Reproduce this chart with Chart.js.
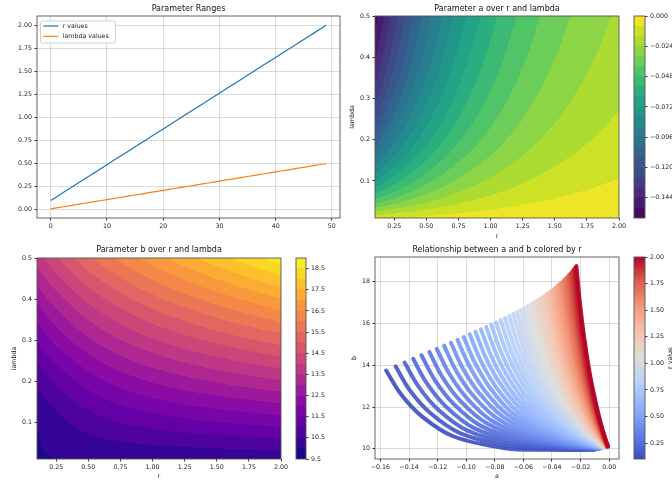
<!DOCTYPE html>
<html lang="en">
<head>
<meta charset="utf-8">
<title>Parameters a and b over r and lambda</title>
<script src="https://cdn.jsdelivr.net/npm/chart.js@4.4.1/dist/chart.umd.min.js"></script>
<style>
  html, body { margin: 0; background: #fff; }
  body { position: relative; width: 672px; height: 483px; overflow: hidden; }
  canvas { position: absolute; }
</style>
</head>
<body>
<canvas id="c-ranges"></canvas>
<canvas id="c-a"></canvas>
<canvas id="c-a-bar"></canvas>
<canvas id="c-b"></canvas>
<canvas id="c-b-bar"></canvas>
<canvas id="c-ab"></canvas>
<canvas id="c-ab-bar"></canvas>
<script>
// ── Data ──────────────────────────────────────────────────

const rVals = [0.100, 0.139, 0.178, 0.216, 0.255, 0.294, 0.333, 0.371, 0.410, 0.449,
               0.488, 0.527, 0.565, 0.604, 0.643, 0.682, 0.720, 0.759, 0.798, 0.837,
               0.876, 0.914, 0.953, 0.992, 1.031, 1.069, 1.108, 1.147, 1.186, 1.224,
               1.263, 1.302, 1.341, 1.380, 1.418, 1.457, 1.496, 1.535, 1.573, 1.612,
               1.651, 1.690, 1.729, 1.767, 1.806, 1.845, 1.884, 1.922, 1.961, 2.000];

const lambdaVals = [0.01, 0.02, 0.03, 0.04, 0.05, 0.06, 0.07, 0.08, 0.09, 0.10,
                    0.11, 0.12, 0.13, 0.14, 0.15, 0.16, 0.17, 0.18, 0.19, 0.20,
                    0.21, 0.22, 0.23, 0.24, 0.25, 0.26, 0.27, 0.28, 0.29, 0.30,
                    0.31, 0.32, 0.33, 0.34, 0.35, 0.36, 0.37, 0.38, 0.39, 0.40,
                    0.41, 0.42, 0.43, 0.44, 0.45, 0.46, 0.47, 0.48, 0.49, 0.50];

// lambda values at which a and b are tabulated (columns of aVals / bVals)
const lambdaSamples = [0.01, 0.05, 0.1, 0.2, 0.3, 0.4, 0.5];

// one row per entry of rVals
const aVals = [
  [-0.0104, -0.0437, -0.0728, -0.1092, -0.1310, -0.1456, -0.1560],
  [-0.0098, -0.0414, -0.0691, -0.1040, -0.1251, -0.1393, -0.1494],
  [-0.0093, -0.0392, -0.0656, -0.0991, -0.1195, -0.1332, -0.1431],
  [-0.0088, -0.0371, -0.0623, -0.0945, -0.1142, -0.1275, -0.1371],
  [-0.0083, -0.0351, -0.0591, -0.0900, -0.1090, -0.1219, -0.1313],
  [-0.0078, -0.0332, -0.0561, -0.0857, -0.1041, -0.1167, -0.1258],
  [-0.0074, -0.0315, -0.0533, -0.0818, -0.0995, -0.1117, -0.1206],
  [-0.0070, -0.0298, -0.0506, -0.0779, -0.0950, -0.1069, -0.1155],
  [-0.0066, -0.0282, -0.0480, -0.0742, -0.0908, -0.1023, -0.1107],
  [-0.0062, -0.0267, -0.0456, -0.0708, -0.0868, -0.0979, -0.1061],
  [-0.0058, -0.0253, -0.0433, -0.0675, -0.0829, -0.0937, -0.1017],
  [-0.0055, -0.0239, -0.0411, -0.0643, -0.0793, -0.0898, -0.0975],
  [-0.0052, -0.0227, -0.0391, -0.0613, -0.0758, -0.0860, -0.0935],
  [-0.0049, -0.0214, -0.0371, -0.0585, -0.0725, -0.0824, -0.0897],
  [-0.0046, -0.0203, -0.0352, -0.0558, -0.0693, -0.0789, -0.0860],
  [-0.0044, -0.0192, -0.0335, -0.0532, -0.0663, -0.0756, -0.0825],
  [-0.0041, -0.0182, -0.0318, -0.0507, -0.0633, -0.0724, -0.0791],
  [-0.0039, -0.0173, -0.0302, -0.0485, -0.0606, -0.0694, -0.0759],
  [-0.0037, -0.0165, -0.0289, -0.0464, -0.0581, -0.0665, -0.0729],
  [-0.0035, -0.0157, -0.0275, -0.0443, -0.0556, -0.0638, -0.0699],
  [-0.0033, -0.0149, -0.0262, -0.0423, -0.0533, -0.0611, -0.0671],
  [-0.0032, -0.0142, -0.0251, -0.0405, -0.0511, -0.0587, -0.0645],
  [-0.0030, -0.0135, -0.0239, -0.0388, -0.0489, -0.0563, -0.0619],
  [-0.0029, -0.0129, -0.0228, -0.0371, -0.0469, -0.0541, -0.0595],
  [-0.0027, -0.0123, -0.0218, -0.0355, -0.0449, -0.0518, -0.0571],
  [-0.0026, -0.0117, -0.0208, -0.0340, -0.0431, -0.0498, -0.0549],
  [-0.0025, -0.0112, -0.0199, -0.0325, -0.0413, -0.0478, -0.0528],
  [-0.0024, -0.0106, -0.0190, -0.0311, -0.0396, -0.0459, -0.0507],
  [-0.0022, -0.0102, -0.0181, -0.0298, -0.0380, -0.0441, -0.0488],
  [-0.0021, -0.0097, -0.0173, -0.0286, -0.0365, -0.0424, -0.0469],
  [-0.0020, -0.0092, -0.0165, -0.0274, -0.0350, -0.0407, -0.0451],
  [-0.0019, -0.0088, -0.0158, -0.0262, -0.0336, -0.0391, -0.0434],
  [-0.0018, -0.0084, -0.0151, -0.0252, -0.0323, -0.0376, -0.0418],
  [-0.0018, -0.0080, -0.0145, -0.0241, -0.0310, -0.0362, -0.0402],
  [-0.0017, -0.0077, -0.0138, -0.0231, -0.0298, -0.0348, -0.0387],
  [-0.0016, -0.0074, -0.0133, -0.0222, -0.0287, -0.0335, -0.0373],
  [-0.0015, -0.0071, -0.0128, -0.0214, -0.0276, -0.0323, -0.0360],
  [-0.0015, -0.0068, -0.0122, -0.0206, -0.0266, -0.0311, -0.0347],
  [-0.0014, -0.0065, -0.0117, -0.0197, -0.0255, -0.0299, -0.0334],
  [-0.0014, -0.0062, -0.0113, -0.0190, -0.0246, -0.0288, -0.0322],
  [-0.0013, -0.0060, -0.0108, -0.0183, -0.0237, -0.0278, -0.0311],
  [-0.0012, -0.0057, -0.0104, -0.0176, -0.0228, -0.0268, -0.0300],
  [-0.0012, -0.0055, -0.0100, -0.0169, -0.0220, -0.0259, -0.0290],
  [-0.0011, -0.0053, -0.0096, -0.0163, -0.0212, -0.0250, -0.0280],
  [-0.0011, -0.0051, -0.0092, -0.0157, -0.0204, -0.0241, -0.0270],
  [-0.0011, -0.0049, -0.0089, -0.0151, -0.0197, -0.0233, -0.0261],
  [-0.0010, -0.0047, -0.0085, -0.0145, -0.0190, -0.0225, -0.0252],
  [-0.0010, -0.0045, -0.0082, -0.0140, -0.0184, -0.0217, -0.0244],
  [-0.0009, -0.0043, -0.0079, -0.0135, -0.0177, -0.0210, -0.0236],
  [-0.0009, -0.0042, -0.0076, -0.0131, -0.0172, -0.0204, -0.0229]
];

const bVals = [
  [9.95, 9.95, 10.03, 10.60, 11.55, 12.61, 13.75],
  [9.97, 10.01, 10.12, 10.74, 11.71, 12.79, 13.95],
  [9.98, 10.05, 10.20, 10.87, 11.87, 12.97, 14.13],
  [9.99, 10.09, 10.28, 10.99, 12.02, 13.13, 14.31],
  [10.00, 10.13, 10.35, 11.11, 12.16, 13.29, 14.48],
  [10.00, 10.17, 10.42, 11.22, 12.29, 13.44, 14.64],
  [10.01, 10.20, 10.49, 11.33, 12.42, 13.58, 14.79],
  [10.01, 10.23, 10.55, 11.43, 12.54, 13.72, 14.94],
  [10.02, 10.26, 10.61, 11.53, 12.66, 13.85, 15.08],
  [10.02, 10.29, 10.67, 11.62, 12.77, 13.98, 15.22],
  [10.03, 10.32, 10.72, 11.71, 12.88, 14.10, 15.35],
  [10.03, 10.35, 10.77, 11.79, 12.98, 14.21, 15.48],
  [10.03, 10.37, 10.82, 11.87, 13.08, 14.32, 15.60],
  [10.04, 10.39, 10.86, 11.95, 13.17, 14.43, 15.72],
  [10.04, 10.42, 10.91, 12.02, 13.26, 14.53, 15.83],
  [10.04, 10.44, 10.95, 12.09, 13.34, 14.63, 15.95],
  [10.05, 10.46, 10.99, 12.16, 13.43, 14.73, 16.05],
  [10.05, 10.48, 11.02, 12.22, 13.51, 14.82, 16.16],
  [10.05, 10.49, 11.06, 12.28, 13.58, 14.91, 16.26],
  [10.06, 10.51, 11.09, 12.33, 13.66, 15.00, 16.36],
  [10.06, 10.53, 11.12, 12.39, 13.73, 15.09, 16.46],
  [10.06, 10.54, 11.15, 12.44, 13.80, 15.17, 16.55],
  [10.06, 10.56, 11.18, 12.49, 13.86, 15.25, 16.65],
  [10.07, 10.57, 11.21, 12.54, 13.93, 15.33, 16.74],
  [10.07, 10.59, 11.24, 12.59, 13.99, 15.40, 16.83],
  [10.07, 10.60, 11.26, 12.63, 14.05, 15.48, 16.92],
  [10.07, 10.61, 11.29, 12.68, 14.11, 15.55, 17.00],
  [10.08, 10.62, 11.31, 12.72, 14.17, 15.62, 17.09],
  [10.08, 10.63, 11.33, 12.76, 14.22, 15.69, 17.17],
  [10.08, 10.65, 11.35, 12.80, 14.28, 15.76, 17.25],
  [10.08, 10.66, 11.38, 12.84, 14.33, 15.83, 17.34],
  [10.09, 10.67, 11.40, 12.88, 14.39, 15.90, 17.42],
  [10.09, 10.68, 11.42, 12.92, 14.44, 15.96, 17.50],
  [10.09, 10.69, 11.44, 12.95, 14.49, 16.03, 17.57],
  [10.09, 10.70, 11.45, 12.99, 14.54, 16.09, 17.65],
  [10.09, 10.71, 11.47, 13.02, 14.59, 16.16, 17.73],
  [10.10, 10.72, 11.49, 13.06, 14.64, 16.22, 17.81],
  [10.10, 10.73, 11.51, 13.09, 14.68, 16.28, 17.88],
  [10.10, 10.74, 11.53, 13.12, 14.73, 16.34, 17.96],
  [10.10, 10.74, 11.55, 13.16, 14.78, 16.41, 18.03],
  [10.10, 10.75, 11.56, 13.19, 14.83, 16.47, 18.11],
  [10.11, 10.76, 11.58, 13.22, 14.87, 16.53, 18.18],
  [10.11, 10.77, 11.59, 13.25, 14.92, 16.58, 18.25],
  [10.11, 10.78, 11.61, 13.28, 14.96, 16.64, 18.33],
  [10.11, 10.78, 11.62, 13.31, 15.00, 16.70, 18.40],
  [10.11, 10.79, 11.64, 13.34, 15.05, 16.76, 18.47],
  [10.12, 10.80, 11.65, 13.37, 15.09, 16.82, 18.54],
  [10.12, 10.81, 11.67, 13.40, 15.13, 16.87, 18.62],
  [10.12, 10.81, 11.68, 13.42, 15.18, 16.93, 18.69],
  [10.12, 10.82, 11.70, 13.45, 15.22, 16.99, 18.76]
];

// contour levels (band edges) of the two filled plots
const aLevels = [-0.160, -0.152, -0.144, -0.136, -0.128, -0.120, -0.112, -0.104, -0.096, -0.088, -0.080,
                 -0.072, -0.064, -0.056, -0.048, -0.040, -0.032, -0.024, -0.016, -0.008, 0.000];
const bLevels = [9.5, 10.0, 10.5, 11.0, 11.5, 12.0, 12.5, 13.0, 13.5, 14.0,
                 14.5, 15.0, 15.5, 16.0, 16.5, 17.0, 17.5, 18.0, 18.5, 19.0];

// tick labels
const idxTicks     = [0, 10, 20, 30, 40, 50];
const rangeTicks   = [0, 0.25, 0.5, 0.75, 1, 1.25, 1.5, 1.75, 2];
const rTicks       = [0.25, 0.5, 0.75, 1, 1.25, 1.5, 1.75, 2];
const lambdaTicks  = [0.1, 0.2, 0.3, 0.4, 0.5];
const aBarTicks    = [-0.144, -0.120, -0.096, -0.072, -0.048, -0.024, 0];
const bBarTicks    = [9.5, 10.5, 11.5, 12.5, 13.5, 14.5, 15.5, 16.5, 17.5, 18.5];
const aTicks       = [-0.16, -0.14, -0.12, -0.10, -0.08, -0.06, -0.04, -0.02, 0];
const bTicks       = [10, 12, 14, 16, 18];
const rBarTicks    = [0.25, 0.5, 0.75, 1, 1.25, 1.5, 1.75, 2];

// ── Colour maps ───────────────────────────────────────────

const VIRIDIS  = [[68,1,84],[72,36,117],[65,68,135],[53,95,141],[42,120,142],[33,145,140],
                  [34,168,132],[68,191,112],[122,209,81],[189,223,38],[253,231,37]];
const PLASMA   = [[13,8,135],[65,4,157],[106,0,168],[143,13,164],[177,42,144],[204,71,120],
                  [225,100,98],[242,132,75],[252,166,54],[252,206,37],[240,249,33]];
const COOLWARM = [[59,76,192],[98,130,234],[141,176,254],[184,208,249],[221,221,221],
                  [245,196,173],[244,154,123],[222,96,77],[180,4,38]];

function cmap(stops, t) {
  t = Math.min(1, Math.max(0, t));
  const s = t * (stops.length - 1);
  const k = Math.min(stops.length - 2, Math.floor(s)), f = s - k;
  return stops[k].map((c, n) => Math.round(c + (stops[k + 1][n] - c) * f));
}
const bandColors = (levels, stops) =>
  levels.slice(1).map((_, k) => cmap(stops, (k + 0.5) / (levels.length - 1)));

const aColors = bandColors(aLevels, VIRIDIS);
const bColors = bandColors(bLevels, PLASMA);
const rgb = (c, alpha = 1) => `rgba(${c[0]},${c[1]},${c[2]},${alpha})`;

// ── Shared chart bits ─────────────────────────────────────

Chart.defaults.font.family = "'DejaVu Sans', sans-serif";
Chart.defaults.font.size = 6.3;
Chart.defaults.color = '#222';
Chart.defaults.animation = false;
Chart.defaults.plugins.legend.display = false;
Chart.defaults.plugins.tooltip.enabled = false;

const GRID = 'rgba(0,0,0,0.14)';
const minus = (v, d) => (v < -1e-9 ? '\u2212' : '') + Math.abs(v).toFixed(d);

function place(id, left, top, w, h) {
  const c = document.getElementById(id);
  c.width = w; c.height = h;
  Object.assign(c.style, { left: left + 'px', top: top + 'px', width: w + 'px', height: h + 'px' });
  return c;
}

function axis(ticks, fmt, min, max, size, opt = {}) {
  const a = {
    type: 'linear', min, max,
    afterBuildTicks: s => { s.ticks = ticks.map(v => ({ value: v })); },
    afterFit: s => { if (s.isHorizontal()) s.height = size; else s.width = size; },
    ticks: { callback: fmt, autoSkip: false, maxRotation: 0, padding: 2.5 },
    grid: { drawOnChartArea: !!opt.grid, color: GRID, tickColor: '#333', tickLength: 2.5 },
    border: { display: false },
    title: opt.title
      ? { display: true, text: opt.title, padding: opt.titlePad, font: { size: 6.3 }, color: '#222' }
      : { display: false }
  };
  if (opt.position) a.position = opt.position;
  return a;
}

const titleOpts = (text, top, bottom) => ({
  display: true, text, fullSize: false, color: '#111',
  font: { size: 8, weight: 'normal', lineHeight: 1.2 }, padding: { top, bottom }
});

// axes frame (all four spines)
const frame = {
  id: 'frame',
  afterDatasetsDraw(chart) {
    const { ctx, chartArea: a } = chart;
    ctx.save();
    ctx.strokeStyle = '#555';
    ctx.lineWidth = 0.9;
    ctx.strokeRect(a.left, a.top, a.width, a.height);
    ctx.restore();
  }
};

// matplotlib-style legend box in the upper left corner
const innerLegend = {
  id: 'innerLegend',
  afterDraw(chart) {
    const { ctx, chartArea: a } = chart;
    const x0 = a.left + 3, y0 = a.top + 4.5;
    ctx.save();
    ctx.fillStyle = 'rgba(255,255,255,0.85)';
    ctx.strokeStyle = '#d0d0d0';
    ctx.lineWidth = 1;
    ctx.beginPath();
    ctx.roundRect(x0 + 0.5, y0 + 0.5, 75, 22, 2);
    ctx.fill(); ctx.stroke();
    ctx.font = "6.3px 'DejaVu Sans'";
    ctx.textBaseline = 'middle';
    chart.data.datasets.forEach((ds, k) => {
      const y = y0 + 5.5 + k * 10.3;
      ctx.strokeStyle = ds.borderColor;
      ctx.lineWidth = 1.2;
      ctx.beginPath(); ctx.moveTo(x0 + 3.3, y); ctx.lineTo(x0 + 18.3, y); ctx.stroke();
      ctx.fillStyle = '#222';
      ctx.fillText(ds.label, x0 + 22.7, y);
    });
    ctx.restore();
  }
};

// rotated label beside a colorbar
const sideLabel = text => ({
  id: 'sideLabel',
  afterDraw(chart) {
    const { ctx, chartArea: ca } = chart;
    ctx.save();
    ctx.translate(chart.width - 2, (ca.top + ca.bottom) / 2);
    ctx.rotate(-Math.PI / 2);
    ctx.font = "6.3px 'DejaVu Sans'";
    ctx.fillStyle = '#222';
    ctx.textAlign = 'center';
    ctx.textBaseline = 'middle';
    ctx.fillText(text, 0, 0);
    ctx.restore();
  }
});

// monotone cubic slopes along lambda, used to shade between tabulated rows
function pchipSlopes(xs, ys) {
  const n = xs.length, d = [], m = new Array(n);
  for (let k = 0; k < n - 1; k++) d.push((ys[k + 1] - ys[k]) / (xs[k + 1] - xs[k]));
  m[0] = d[0]; m[n - 1] = d[n - 2];
  for (let k = 1; k < n - 1; k++) {
    if (d[k - 1] * d[k] <= 0) { m[k] = 0; continue; }
    const h0 = xs[k] - xs[k - 1], h1 = xs[k + 1] - xs[k];
    const w1 = 2 * h1 + h0, w2 = h1 + 2 * h0;
    m[k] = (w1 + w2) / (w1 / d[k - 1] + w2 / d[k]);
  }
  return m;
}
function hermite(xs, ys, ms, x) {
  let k = 0;
  while (k < xs.length - 2 && x > xs[k + 1]) k++;
  const h = xs[k + 1] - xs[k], t = (x - xs[k]) / h, t2 = t * t, t3 = t2 * t;
  return (2 * t3 - 3 * t2 + 1) * ys[k] + (t3 - 2 * t2 + t) * h * ms[k]
       + (-2 * t3 + 3 * t2) * ys[k + 1] + (t3 - t2) * h * ms[k + 1];
}

// filled contour bands, painted through the chart's own x / y scales
function contourLayer(grid, levels, colors) {
  const slopes = grid.map(row => pchipSlopes(lambdaSamples, row));
  return {
    id: 'contourLayer',
    beforeDatasetsDraw(chart) {
      const { ctx, chartArea: ca, scales: { x, y } } = chart;
      const w = Math.round(ca.width), h = Math.round(ca.height);
      const off = document.createElement('canvas');
      off.width = w; off.height = h;
      const octx = off.getContext('2d');
      const img = octx.createImageData(w, h);
      const lams = [];
      for (let py = 0; py < h; py++) lams.push(y.getValueForPixel(ca.top + py + 0.5));
      for (let px = 0; px < w; px++) {
        const r = x.getValueForPixel(ca.left + px + 0.5);
        let i = 0;
        while (i < rVals.length - 2 && r > rVals[i + 1]) i++;
        const f = Math.max(0, Math.min(1, (r - rVals[i]) / (rVals[i + 1] - rVals[i])));
        for (let py = 0; py < h; py++) {
          const v0 = hermite(lambdaSamples, grid[i], slopes[i], lams[py]);
          const v1 = hermite(lambdaSamples, grid[i + 1], slopes[i + 1], lams[py]);
          const v = v0 + (v1 - v0) * f;
          let k = 0;
          while (k < colors.length - 1 && v >= levels[k + 1]) k++;
          const c = colors[k], p = (py * w + px) * 4;
          img.data[p] = c[0]; img.data[p + 1] = c[1]; img.data[p + 2] = c[2]; img.data[p + 3] = 255;
        }
      }
      octx.putImageData(img, 0, 0);
      ctx.drawImage(off, Math.round(ca.left), Math.round(ca.top));
    }
  };
}

function colorbar(id, box, pad, axisW, datasets, min, max, ticks, fmt, extra = []) {
  return new Chart(place(id, ...box), {
    type: 'bar',
    data: { labels: [''], datasets },
    options: {
      responsive: false,
      layout: { padding: pad },
      scales: {
        x: { display: false },
        y: axis(ticks, fmt, min, max, axisW, { position: 'right' })
      }
    },
    plugins: [frame, ...extra]
  });
}
const bandSets = (levels, colors) => colors.map((c, k) => ({
  data: [[levels[k], levels[k + 1]]], backgroundColor: rgb(c), borderWidth: 0,
  grouped: false, barPercentage: 1, categoryPercentage: 1
}));

// ── Panel 1: parameter ranges ─────────────────────────────

new Chart(place('c-ranges', 0, 0, 346, 240), {
  type: 'line',
  data: {
    datasets: [
      { label: 'r values', data: rVals.map((v, i) => ({ x: i, y: v })),
        borderColor: '#1f77b4', borderWidth: 1.2, pointRadius: 0 },
      { label: 'lambda values', data: lambdaVals.map((v, i) => ({ x: i, y: v })),
        borderColor: '#ff7f0e', borderWidth: 1.2, pointRadius: 0 }
    ]
  },
  options: {
    responsive: false,
    layout: { padding: { right: 6 } },
    plugins: { title: titleOpts('Parameter Ranges', 4.6, 1.8) },
    scales: {
      x: axis(idxTicks, v => String(v), -2.45, 51.45, 22, { grid: true }),
      y: axis(rangeTicks, v => v.toFixed(2), -0.0895, 2.0995, 37, { grid: true })
    }
  },
  plugins: [frame, innerLegend]
});

// ── Panel 2: a over r and lambda ──────────────────────────

new Chart(place('c-a', 345, 0, 285, 242), {
  type: 'scatter',
  data: { datasets: [{ data: [] }] },
  options: {
    responsive: false,
    layout: { padding: { right: 11 } },
    plugins: { title: titleOpts('Parameter a over r and lambda', 4.6, 1.8) },
    scales: {
      x: axis(rTicks, v => v.toFixed(2), 0.1, 2.0, 24, { title: 'r', titlePad: { top: 0, bottom: 2.2 } }),
      y: axis(lambdaTicks, v => v.toFixed(1), 0.01, 0.5, 30, { title: 'lambda', titlePad: { top: 3.9, bottom: 0 } })
    }
  },
  plugins: [contourLayer(aVals, aLevels, aColors), frame]
});
colorbar('c-a-bar', [630, 0, 42, 230], { left: 4, top: 16, bottom: 12, right: 0 }, 27,
  bandSets(aLevels, aColors), -0.16, 0, aBarTicks, v => minus(v, 3));

// ── Panel 3: b over r and lambda ──────────────────────────

new Chart(place('c-b', 0, 240, 292, 243), {
  type: 'scatter',
  data: { datasets: [{ data: [] }] },
  options: {
    responsive: false,
    layout: { padding: { right: 11 } },
    plugins: { title: titleOpts('Parameter b over r and lambda', 5.2, 3.2) },
    scales: {
      x: axis(rTicks, v => v.toFixed(2), 0.1, 2.0, 24, { title: 'r', titlePad: { top: 0, bottom: 2.5 } }),
      y: axis(lambdaTicks, v => v.toFixed(1), 0.01, 0.5, 37, { title: 'lambda', titlePad: { top: 10.2, bottom: 0 } })
    }
  },
  plugins: [contourLayer(bVals, bLevels, bColors), frame]
});
colorbar('c-b-bar', [292, 240, 40, 243], { left: 4, top: 18, bottom: 24, right: 0 }, 26,
  bandSets(bLevels, bColors), 9.5, 19.0, bBarTicks, v => v.toFixed(1));

// ── Panel 4: a vs b coloured by r ─────────────────────────

const rColor = (r, alpha) => rgb(cmap(COOLWARM, (r - rVals[0]) / (rVals[rVals.length - 1] - rVals[0])), alpha);

new Chart(place('c-ab', 345, 240, 285, 243), {
  type: 'scatter',
  data: {
    datasets: rVals.map((r, i) => ({
      data: lambdaSamples.map((_, j) => ({ x: aVals[i][j], y: bVals[i][j] })),
      showLine: true, borderColor: rColor(r, 0.9), borderWidth: 4, pointRadius: 0,
      tension: 0.35, borderCapStyle: 'round', borderJoinStyle: 'round',
      order: rVals.length - i
    }))
  },
  options: {
    responsive: false,
    layout: { padding: { right: 11 } },
    plugins: { title: titleOpts('Relationship between a and b colored by r', 5.2, 2.2) },
    scales: {
      x: axis(aTicks, v => minus(v, 2), -0.1638, 0.0069, 24, { grid: true, title: 'a', titlePad: { top: 0, bottom: 2.5 } }),
      y: axis(bTicks, v => String(v), 9.51, 19.19, 30, { grid: true, title: 'b', titlePad: { top: 5.2, bottom: 0 } })
    }
  },
  plugins: [frame]
});
colorbar('c-ab-bar', [630, 240, 42, 243], { left: 4, top: 17, bottom: 24, right: 0 }, 27,
  [{
    data: [[rVals[0], rVals[rVals.length - 1]]], borderWidth: 0, grouped: false,
    barPercentage: 1, categoryPercentage: 1,
    backgroundColor: c => {
      const ca = c.chart.chartArea;
      if (!ca) return rgb(COOLWARM[4]);
      const g = c.chart.ctx.createLinearGradient(0, ca.bottom, 0, ca.top);
      COOLWARM.forEach((s, k) => g.addColorStop(k / (COOLWARM.length - 1), rgb(s)));
      return g;
    }
  }],
  0.1, 2.0, rBarTicks, v => v.toFixed(2), [sideLabel('r value')]);
</script>
</body>
</html>
